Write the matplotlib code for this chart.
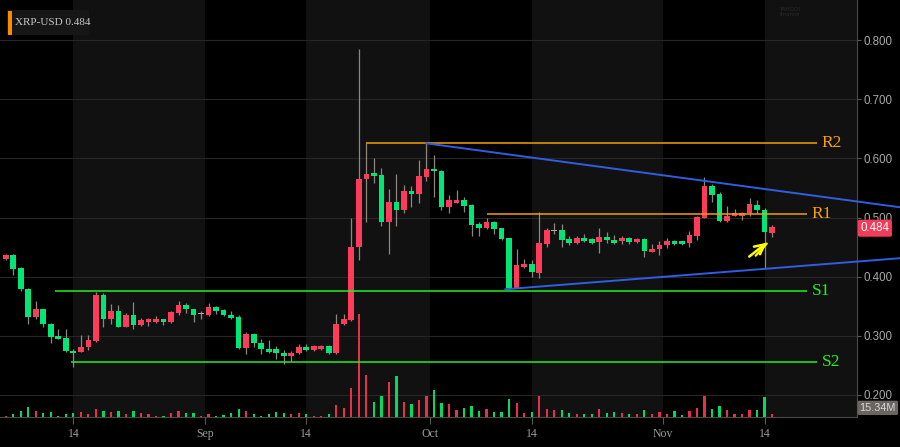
import matplotlib
matplotlib.use('Agg')
import matplotlib.pyplot as plt
import numpy as np
import pandas as pd
from matplotlib.patches import Rectangle

# ---------------- data ----------------
ticker = 'XRP-USD'
start_date = '2018-08-05'
opens = [0.430, 0.437, 0.415, 0.379, 0.332, 0.345, 0.320, 0.300, 0.296, 0.275,
         0.273, 0.281, 0.291, 0.369, 0.329, 0.342, 0.315, 0.335, 0.318, 0.323,
         0.323, 0.328, 0.323, 0.338, 0.352, 0.345, 0.337, 0.335, 0.349, 0.344,
         0.335, 0.332, 0.279, 0.303, 0.288, 0.278, 0.278, 0.271, 0.265, 0.271,
         0.281, 0.276, 0.278, 0.283, 0.271, 0.320, 0.326, 0.450, 0.566, 0.576,
         0.572, 0.493, 0.526, 0.513, 0.545, 0.540, 0.569, 0.582, 0.579, 0.517,
         0.525, 0.530, 0.521, 0.489, 0.483, 0.493, 0.482, 0.465, 0.381, 0.416,
         0.422, 0.406, 0.455, 0.478, 0.479, 0.464, 0.457, 0.466, 0.463, 0.459,
         0.467, 0.462, 0.461, 0.466, 0.459, 0.464, 0.442, 0.447, 0.454, 0.460,
         0.460, 0.457, 0.469, 0.500, 0.554, 0.540, 0.494, 0.503, 0.503, 0.508,
         0.521, 0.513, 0.474]
highs = [0.438, 0.438, 0.416, 0.380, 0.359, 0.346, 0.321, 0.312, 0.312, 0.277,
         0.302, 0.302, 0.374, 0.372, 0.354, 0.352, 0.338, 0.357, 0.330, 0.330,
         0.333, 0.329, 0.342, 0.359, 0.355, 0.346, 0.342, 0.355, 0.350, 0.345,
         0.342, 0.335, 0.306, 0.305, 0.295, 0.293, 0.283, 0.276, 0.274, 0.286,
         0.286, 0.285, 0.284, 0.285, 0.337, 0.337, 0.499, 0.785, 0.626, 0.600,
         0.583, 0.548, 0.573, 0.555, 0.553, 0.597, 0.626, 0.606, 0.580, 0.538,
         0.546, 0.534, 0.523, 0.493, 0.500, 0.494, 0.483, 0.466, 0.446, 0.430,
         0.428, 0.509, 0.483, 0.490, 0.489, 0.469, 0.469, 0.473, 0.465, 0.482,
         0.476, 0.471, 0.469, 0.467, 0.466, 0.466, 0.455, 0.460, 0.466, 0.462,
         0.461, 0.477, 0.503, 0.569, 0.556, 0.543, 0.520, 0.515, 0.509, 0.533,
         0.530, 0.516, 0.488]
lows = [0.428, 0.403, 0.376, 0.320, 0.328, 0.314, 0.288, 0.294, 0.273, 0.248,
        0.272, 0.276, 0.290, 0.314, 0.320, 0.314, 0.314, 0.312, 0.317, 0.316,
        0.322, 0.318, 0.321, 0.335, 0.338, 0.323, 0.328, 0.334, 0.337, 0.334,
        0.329, 0.278, 0.269, 0.281, 0.269, 0.271, 0.260, 0.252, 0.255, 0.269,
        0.274, 0.275, 0.276, 0.269, 0.270, 0.318, 0.325, 0.428, 0.493, 0.558,
        0.485, 0.438, 0.485, 0.508, 0.517, 0.525, 0.561, 0.534, 0.512, 0.508,
        0.524, 0.510, 0.469, 0.468, 0.480, 0.472, 0.462, 0.379, 0.380, 0.414,
        0.400, 0.397, 0.450, 0.472, 0.451, 0.453, 0.455, 0.459, 0.455, 0.440,
        0.457, 0.455, 0.455, 0.455, 0.457, 0.433, 0.441, 0.436, 0.449, 0.454,
        0.454, 0.450, 0.462, 0.499, 0.527, 0.493, 0.493, 0.502, 0.496, 0.503,
        0.508, 0.413, 0.467]
closes = [0.437, 0.413, 0.379, 0.332, 0.345, 0.320, 0.298, 0.295, 0.274, 0.271,
          0.281, 0.293, 0.369, 0.329, 0.342, 0.315, 0.335, 0.318, 0.327, 0.328,
          0.328, 0.323, 0.340, 0.352, 0.345, 0.335, 0.337, 0.349, 0.342, 0.335,
          0.330, 0.279, 0.303, 0.287, 0.278, 0.273, 0.271, 0.265, 0.271, 0.281,
          0.276, 0.283, 0.283, 0.271, 0.320, 0.328, 0.450, 0.566, 0.574, 0.571,
          0.493, 0.526, 0.513, 0.545, 0.540, 0.571, 0.582, 0.578, 0.517, 0.530,
          0.530, 0.520, 0.488, 0.483, 0.493, 0.481, 0.464, 0.381, 0.420, 0.422,
          0.408, 0.457, 0.479, 0.478, 0.462, 0.457, 0.466, 0.461, 0.457, 0.467,
          0.462, 0.457, 0.466, 0.459, 0.464, 0.443, 0.447, 0.454, 0.460, 0.455,
          0.455, 0.470, 0.501, 0.554, 0.538, 0.494, 0.503, 0.508, 0.508, 0.523,
          0.513, 0.476, 0.484]
volumes_m = [6, 15, 32, 55, 32, 21, 27, 7, 15, 21,
             27, 15, 44, 32, 27, 32, 15, 32, 21, 15,
             6, 6, 21, 32, 21, 21, 7, 15, 7, 10,
             21, 44, 32, 15, 7, 15, 28, 23, 15, 23,
             15, 4, 4, 15, 70, 49, 167, 587, 238, 84,
             118, 198, 232, 84, 72, 99, 121, 152, 78, 72,
             38, 51, 61, 32, 44, 27, 27, 101, 78, 21,
             27, 121, 44, 38, 38, 21, 15, 15, 15, 44,
             21, 27, 21, 15, 15, 38, 15, 27, 15, 32,
             10, 32, 49, 121, 44, 61, 38, 15, 15, 38,
             38, 112, 15.34]

price_ticks = [0.2, 0.3, 0.4, 0.5, 0.6, 0.7, 0.8]
tick_dates = ['2018-08-14', '2018-09-01', '2018-09-14', '2018-10-01',
              '2018-10-14', '2018-11-01', '2018-11-14']
tick_labels = ['14', 'Sep', '14', 'Oct', '14', 'Nov', '14']

level_names = ['R2', 'R1', 'S1', 'S2']
level_values = [0.6255, 0.5068, 0.3765, 0.2552]
level_start_dates = ['2018-09-22', '2018-10-08', '2018-08-11 12:00', '2018-08-13 18:00']
level_end_dates = ['2018-11-20 22:00', '2018-11-19 16:00', '2018-11-19 16:00', '2018-11-21']

upper_trend_dates = ['2018-09-30', '2018-12-03']
upper_trend_prices = [0.6255, 0.5157]
lower_trend_dates = ['2018-10-10 12:00', '2018-12-03']
lower_trend_prices = [0.3787, 0.4322]

arrow_tail_date, arrow_tail_price = '2018-11-11 16:00', 0.431
arrow_head_date, arrow_head_price = '2018-11-14 14:00', 0.4604

last_price_label = '0.484'
last_volume_label = '15.34M'

# ---------------- styles ----------------
UP = '#ff3b5c'
DOWN = '#00e676'
VUP = '#e8304a'
VDOWN = '#00d966'
WICK = '#8f877d'
DOJI = '#b0aaa0'
BAND = '#111111'
GRID = '#262626'
ORANGE = '#f5a000'
LGREEN = '#22ee22'
BLUE = '#2f5fe0'
SANS = ['Liberation Sans', 'DejaVu Sans']
SERIF = ['Liberation Serif', 'DejaVu Serif']

n = len(closes)
t0 = pd.Timestamp(start_date)
def dayidx(d):
    return (pd.Timestamp(d) - t0) / pd.Timedelta(days=1)

x = np.arange(n)
o = np.array(opens); c = np.array(closes); h = np.array(highs); l = np.array(lows)

fig = plt.figure(figsize=(9.0, 4.47), dpi=100, facecolor='black')
ax = fig.add_axes([0.0, 30/447, 857/900, 417/447])
ax.set_facecolor('black')
ax.set_xlim(-0.76, 113.3)
ax.set_ylim(0.1626, 0.868)

# shaded bands (14th -> 1st of next month)
tick_pos = []
for d in tick_dates:
    ts = pd.Timestamp(d)
    tick_pos.append(dayidx(d) - (0.5 if ts.day == 1 else 0.0))
band_starts = [p for p, d in zip(tick_pos, tick_dates) if pd.Timestamp(d).day == 14]
band_ends = [p for p, d in zip(tick_pos, tick_dates) if pd.Timestamp(d).day == 1]
for i, bs in enumerate(band_starts):
    be = band_ends[i] if i < len(band_ends) else 200
    ax.axvspan(bs, be, color=BAND, zorder=0, lw=0)

for pt in price_ticks:
    ax.axhline(pt, color=GRID, lw=0.8, zorder=0.5)

# volume bars (bottom overlay)
vmax = 2377.0
vcol = [VUP if cc >= oo else VDOWN for oo, cc in zip(o, c)]
ax.bar(x, np.array(volumes_m) / vmax, width=0.3, bottom=0, color=vcol,
       transform=ax.get_xaxis_transform(), zorder=1)

# candles
ax.vlines(x, l, h, color=WICK, lw=0.9, zorder=2)
body_col = []
for oo, cc in zip(o, c):
    if abs(cc - oo) < 1e-9:
        body_col.append(DOJI)
    elif cc > oo:
        body_col.append(UP)
    else:
        body_col.append(DOWN)
bottoms = np.minimum(o, c)
heights = np.maximum(np.abs(c - o), 0.0017)
ax.bar(x, heights, width=0.76, bottom=bottoms - np.where(np.abs(c - o) < 1e-9, 0.00085, 0),
       color=body_col, zorder=3, lw=0)

# levels
lcols = [ORANGE, ORANGE, LGREEN, LGREEN]
for name, val, sd, ed, col in zip(level_names, level_values, level_start_dates,
                                  level_end_dates, lcols):
    ax.hlines(val, dayidx(sd), dayidx(ed), color=col, lw=1.1, zorder=4)
    ax.text(dayidx(ed) + 0.6, val, name, color=col, fontsize=12.5,
            family=SERIF, va='center', ha='left', zorder=5)

# trendlines
ax.plot([dayidx(d) for d in upper_trend_dates], upper_trend_prices, color=BLUE,
        lw=1.4, zorder=4, clip_on=False)
ax.plot([dayidx(d) for d in lower_trend_dates], lower_trend_prices, color=BLUE,
        lw=1.4, zorder=4, clip_on=False)

# yellow arrow (double shaft)
xt, xh = dayidx(arrow_tail_date), dayidx(arrow_head_date)
ax.annotate('', xy=(xh, arrow_head_price), xytext=(xt, arrow_tail_price),
            arrowprops=dict(arrowstyle='->,head_length=0.7,head_width=0.35',
                            color='#ffff00', lw=1.8), zorder=6)
ax.annotate('', xy=(xh - 0.05, arrow_head_price - 0.001),
            xytext=(xt + 0.9, arrow_tail_price + 0.001),
            arrowprops=dict(arrowstyle='-', color='#ffff00', lw=1.6), zorder=6)

# axes styling
for s in ['top', 'left']:
    ax.spines[s].set_visible(False)
ax.spines['right'].set_color('#4a4a4a')
ax.spines['bottom'].set_color('#4a4a4a')
ax.yaxis.tick_right()
ax.set_yticks(price_ticks)
ax.set_yticklabels(['%.3f' % v for v in price_ticks])
ax.tick_params(axis='y', colors='#5a5a5a', labelcolor='#a8a8a8', length=3,
               width=0.8, pad=2, labelsize=8.3)
for lab in ax.get_yticklabels():
    lab.set_family(SANS)
ax.set_xticks(tick_pos)
ax.set_xticklabels(tick_labels)
ax.tick_params(axis='x', colors='#5a5a5a', labelcolor='#9a9a9a', length=5,
               width=0.8, pad=3, labelsize=8.5)
for lab in ax.get_xticklabels():
    lab.set_family(SERIF)

# last price box
ax.text(1.004, float(last_price_label) - 0.002, last_price_label,
        transform=ax.get_yaxis_transform(), ha='left', va='center',
        color='white', fontsize=8.3, family=SANS,
        bbox=dict(boxstyle='round,pad=0.22,rounding_size=0.15', fc='#f23a59', ec='none'),
        zorder=10, clip_on=False)
# last volume box
ax.text(1.003, 0.022, last_volume_label, transform=ax.transAxes, ha='left',
        va='center', color='#d8d8d8', fontsize=7.8, family=SANS,
        bbox=dict(boxstyle='round,pad=0.2,rounding_size=0.15', fc='#6a655f', ec='none'),
        zorder=10, clip_on=False)

# title box top-left
fig.patches.append(Rectangle((7/900, 1 - 35/447), 82/900, 25/447,
                             transform=fig.transFigure, fc='#161616', ec='none'))
fig.patches.append(Rectangle((8/900, 1 - 35/447), 3.5/900, 24/447,
                             transform=fig.transFigure, fc='#ff8a00', ec='none'))
fig.text(15/900, 1 - 22.5/447, f'{ticker} {last_price_label}', color='#c8c8c8',
         fontsize=8, family=SERIF, va='center', ha='left')

# faint watermark
fig.text(790/900, 1 - 12/447, 'YAHOO!\nfinance', color='#2a2a2a', fontsize=4,
         ha='center', va='center', linespacing=0.9)

fig.savefig('out.png', dpi=100, facecolor='black')
